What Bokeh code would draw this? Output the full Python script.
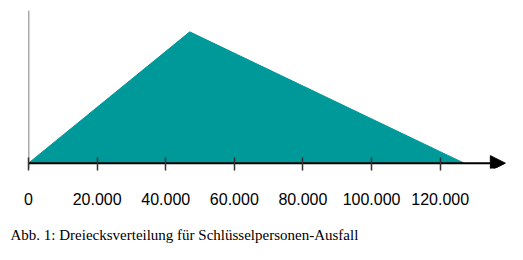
from bokeh.plotting import figure
from bokeh.models import FixedTicker, Span, Arrow, NormalHead, Title, Range1d
from bokeh.embed import file_html
from bokeh.resources import INLINE

# data
tri_x = [0, 47000, 127000]
tri_y = [0, 0.86, 0]
tick_values = [0, 20000, 40000, 60000, 80000, 100000, 120000]
tick_labels = ["0", "20.000", "40.000", "60.000", "80.000", "100.000", "120.000"]
caption = "Abb. 1: Dreiecksverteilung für Schlüsselpersonen-Ausfall"

x_end = 140500
arrow_end = 139000

p = figure(frame_width=482, frame_height=158, output_backend="svg", toolbar_location=None,
           x_range=Range1d(0, x_end), y_range=Range1d(-0.035, 1.0),
           min_border_left=28, min_border_top=10, min_border_right=13, min_border_bottom=0)
p.outline_line_color = None
p.grid.visible = False
p.yaxis.visible = False
p.background_fill_color = "white"
p.border_fill_color = "white"

p.patch(tri_x, tri_y, fill_color="#009999", line_color="#009999")

p.add_layout(Span(location=0, dimension="height", line_color="#555555", line_width=1.5))
p.add_layout(Arrow(x_start=0, y_start=0, x_end=arrow_end, y_end=0, line_color="black", line_width=2,
                   end=NormalHead(size=15, fill_color="black", line_color="black")))

ax = p.xaxis[0]
ax.level = "overlay"
ax.ticker = FixedTicker(ticks=tick_values)
ax.major_label_overrides = {v: l for v, l in zip(tick_values, tick_labels)}
ax.axis_line_color = None
ax.minor_tick_line_color = None
ax.major_tick_in = 11
ax.major_tick_out = 2
ax.major_tick_line_color = "#333333"
ax.major_tick_line_width = 1.5
ax.major_label_standoff = 22
ax.major_label_text_font = "Liberation Sans"
ax.major_label_text_font_size = "16px"
ax.major_label_text_color = "black"

t = Title(text=caption, align="left", offset=-18, text_font="Liberation Serif",
          text_font_size="15px", text_font_style="normal", text_color="black", standoff=35)
p.add_layout(t, "below")

open("out.html", "w").write(file_html(p, INLINE))
